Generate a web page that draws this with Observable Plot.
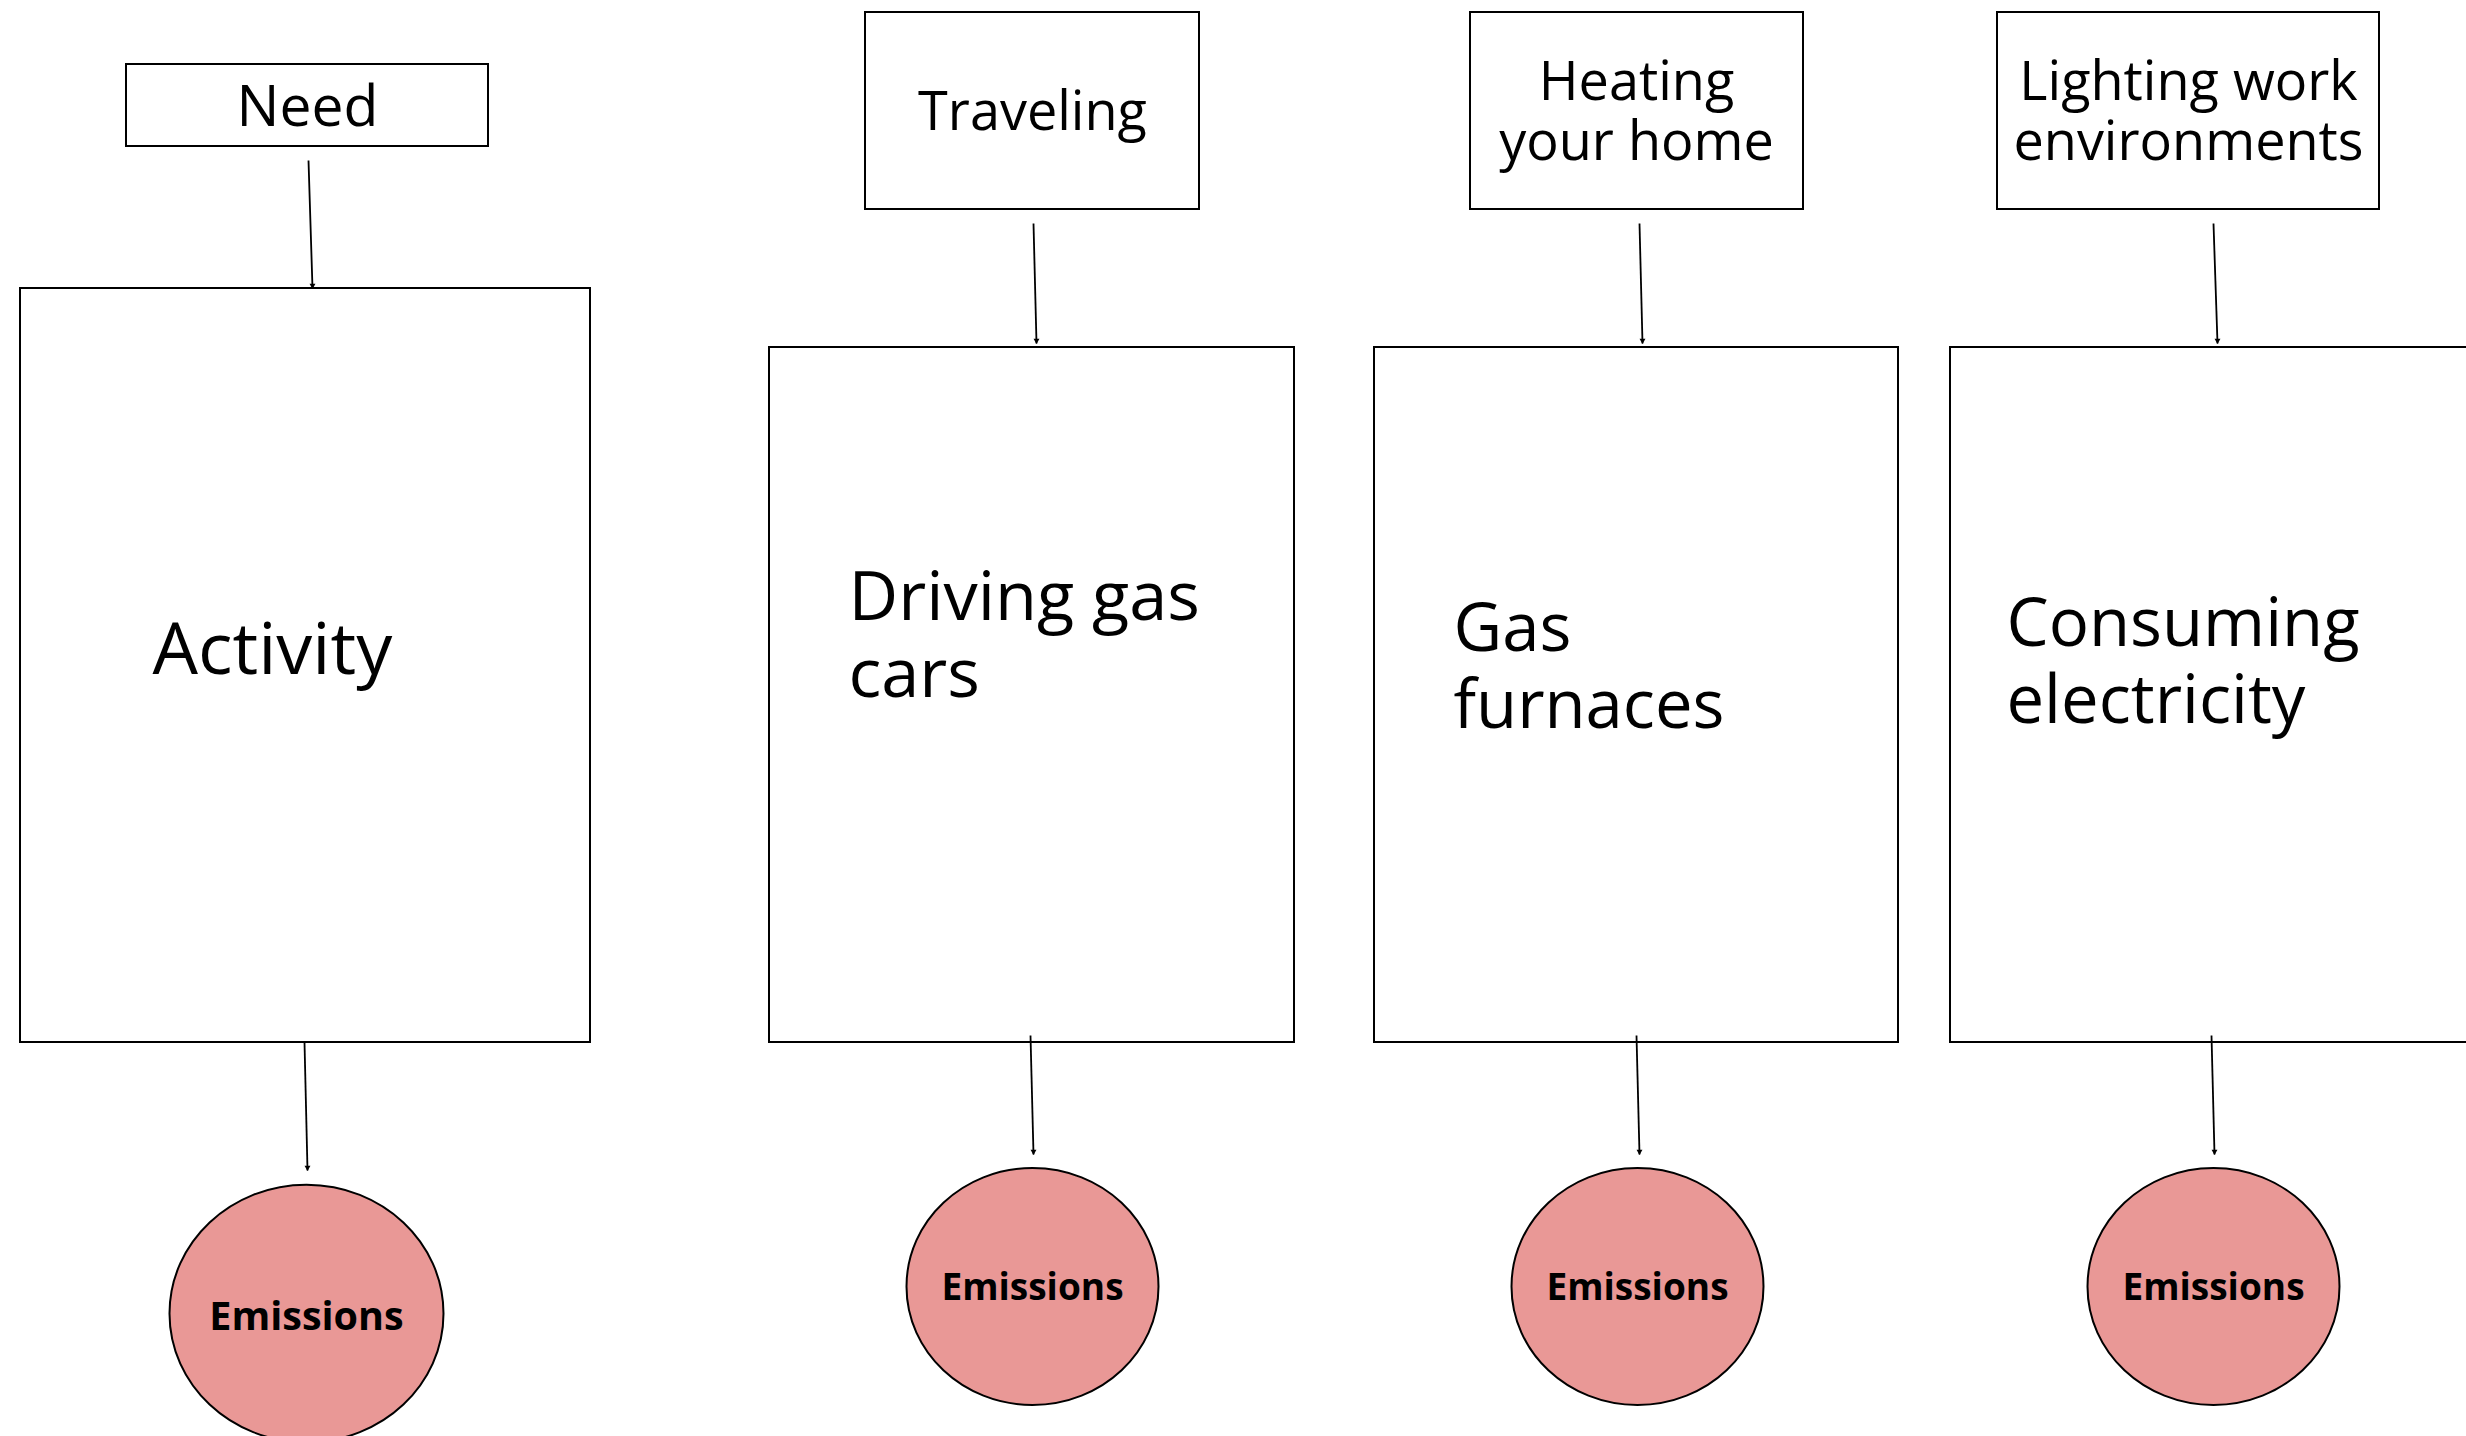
<!DOCTYPE html>
<html>
<head>
<meta charset="utf-8">
<script src="https://cdn.jsdelivr.net/npm/d3@7"></script>
<script src="https://cdn.jsdelivr.net/npm/@observablehq/plot@0.6"></script>
<style>
  html, body { margin: 0; padding: 0; background: #fff; }
  #chart svg { display: block; }
</style>
</head>
<body>
<div id="chart"></div>
<script>
// ---- Content ----
const needs = ["Need", "Traveling", "Heating\nyour home", "Lighting work\nenvironments"];
const activities = ["Activity", "Driving gas\ncars", "Gas\nfurnaces", "Consuming\nelectricity"];
const outcomes = ["Emissions", "Emissions", "Emissions", "Emissions"];

// ---- Layout (diagram units) ----
const needBoxes = [[126, 64, 488, 146], [865, 12, 1199, 209], [1470, 12, 1803, 209], [1997, 12, 2379, 209]];
const needTextX = [307, 1032, 1636, 2188];
const needBaseline = [125, 129, 99, 99];
const needFont = [57, 54, 54, 54];
const needLineGap = 60;

const activityBoxes = [[20, 288, 590, 1042], [769, 347, 1294, 1042], [1374, 347, 1898, 1042], [1950, 347, 2490, 1042]];
const activityTextX = [152, 848, 1453, 2006];
const activityBaseline = [673, 619, 650, 645];
const activityFont = [72, 68.5, 67, 67];
const activityLineGap = 77;

const topArrows = [[308, 160, 312, 288], [1033, 223, 1036, 343], [1639, 223, 1642, 343], [2213, 223, 2217, 343]];
const bottomArrows = [[304, 1042, 307, 1170], [1030, 1035, 1033, 1154], [1636, 1035, 1639, 1154], [2211, 1035, 2214, 1154]];

const circleX = [306, 1032, 1637, 2213];
const circleY = [1313, 1286, 1286, 1286];
const circleR = [137, 126, 126, 126];
const emissionsBaseline = [1329, 1299, 1299, 1299];
const emissionsFont = [39.5, 37, 37, 37];

// ---- Build tables ----
const idx = d3.range(needs.length);
const needBoxData = idx.map(i => ({x1: needBoxes[i][0], y1: needBoxes[i][1], x2: needBoxes[i][2], y2: needBoxes[i][3]}));
const actBoxData = idx.map(i => ({x1: activityBoxes[i][0], y1: activityBoxes[i][1], x2: activityBoxes[i][2], y2: activityBoxes[i][3]}));
const needLines = idx.flatMap(i => needs[i].split("\n").map((t, j) => ({text: t, x: needTextX[i], y: needBaseline[i] + j * needLineGap, size: needFont[i]})));
const actLines = idx.flatMap(i => activities[i].split("\n").map((t, j) => ({text: t, x: activityTextX[i], y: activityBaseline[i] + j * activityLineGap, size: activityFont[i]})));
const arrows = [...topArrows, ...bottomArrows].map(a => ({x1: a[0], y1: a[1], x2: a[2], y2: a[3]}));
const circles = idx.map(i => ({x: circleX[i], y: circleY[i], r: circleR[i], label: outcomes[i], by: emissionsBaseline[i], size: emissionsFont[i]}));

// ellipse symbol (slightly flattened circle)
const aspect = 0.94;
const ellipse = {
  draw(context, size) {
    const rx = Math.sqrt(size / Math.PI), ry = rx * aspect, k = 0.5522847498;
    context.moveTo(rx, 0);
    context.bezierCurveTo(rx, ry * k, rx * k, ry, 0, ry);
    context.bezierCurveTo(-rx * k, ry, -rx, ry * k, -rx, 0);
    context.bezierCurveTo(-rx, -ry * k, -rx * k, -ry, 0, -ry);
    context.bezierCurveTo(rx * k, -ry, rx, -ry * k, rx, 0);
    context.closePath();
  }
};

const font = "'Open Sans', 'Noto Sans', sans-serif";

const chart = Plot.plot({
  width: 2466,
  height: 1436,
  margin: 0,
  x: {domain: [0, 2466], axis: null},
  y: {domain: [0, 1436], reverse: true, axis: null},
  r: {type: "identity"},
  style: {background: "#fff", fontFamily: font},
  marks: [
    Plot.rect(actBoxData, {x1: "x1", x2: "x2", y1: "y1", y2: "y2", fill: "#fff", stroke: "#000", strokeWidth: 2}),
    Plot.rect(needBoxData, {x1: "x1", x2: "x2", y1: "y1", y2: "y2", fill: "#fff", stroke: "#000", strokeWidth: 2}),
    Plot.link(arrows, {x1: "x1", y1: "y1", x2: "x2", y2: "y2", stroke: "#000", strokeWidth: 1.8}),
    Plot.dot(arrows, {x: "x2", y: "y2", symbol: "triangle2", r: 2.8, rotate: 180, dy: -3, fill: "#000", stroke: "none"}),
    Plot.dot(circles, {x: "x", y: "y", r: "r", symbol: ellipse, fill: "#e99896", stroke: "#000", strokeWidth: 2}),
    Plot.text(needLines, {x: "x", y: "y", text: "text", textAnchor: "middle", lineAnchor: "bottom", fontSize: d => d.size, fill: "#000", fontFamily: font}),
    Plot.text(actLines, {x: "x", y: "y", text: "text", textAnchor: "start", lineAnchor: "bottom", fontSize: d => d.size, fill: "#000", fontFamily: font}),
    Plot.text(circles, {x: "x", y: "by", text: "label", textAnchor: "middle", lineAnchor: "bottom", fontSize: d => d.size, fontWeight: "bold", fill: "#000", fontFamily: font})
  ]
});
document.getElementById("chart").appendChild(chart);
</script>
</body>
</html>
